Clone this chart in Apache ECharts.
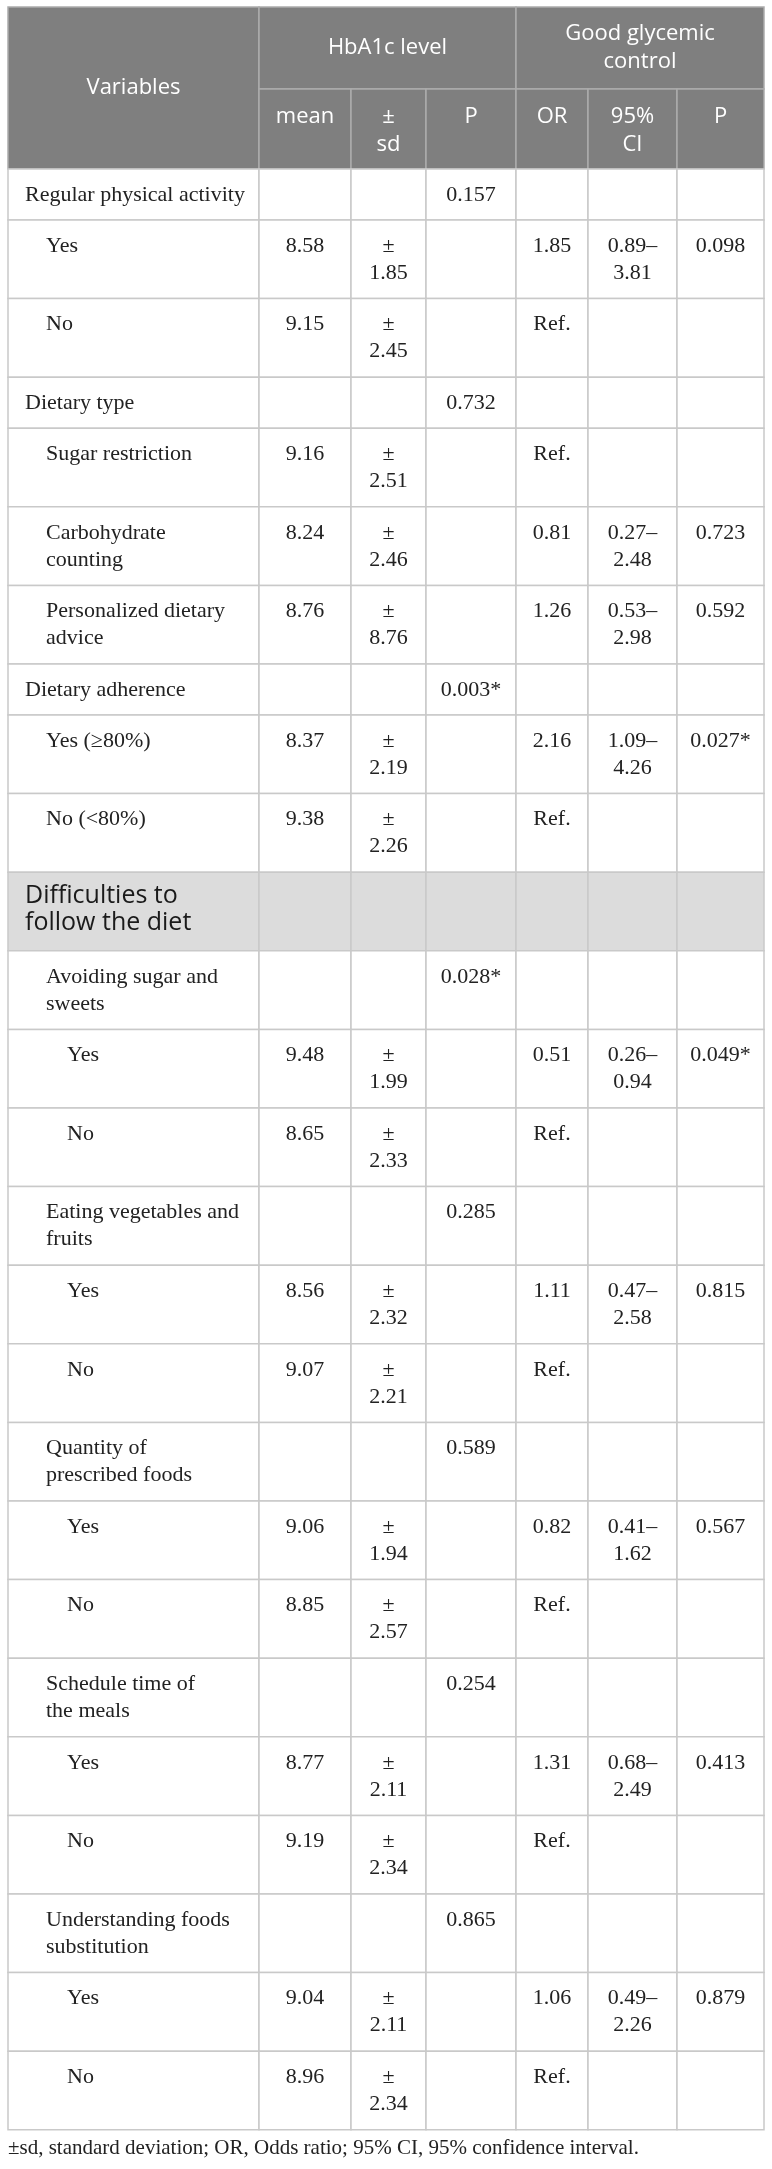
<!DOCTYPE html>
<html>
<head>
<meta charset="utf-8">
<script src="https://cdn.jsdelivr.net/npm/echarts@6/dist/echarts.min.js"></script>
<style>
  html, body { margin: 0; padding: 0; background: #ffffff; }
  #chart { width: 772px; height: 2169px; }
</style>
</head>
<body>
<div id="chart"></div>
<script>
// --- table content ---
var labels = [
  'Regular physical activity', 'Yes', 'No',
  'Dietary type', 'Sugar restriction', 'Carbohydrate\ncounting', 'Personalized dietary\nadvice',
  'Dietary adherence', 'Yes (\u226580%)', 'No (<80%)',
  'Difficulties to\nfollow the diet',
  'Avoiding sugar and\nsweets', 'Yes', 'No',
  'Eating vegetables and\nfruits', 'Yes', 'No',
  'Quantity of\nprescribed foods', 'Yes', 'No',
  'Schedule time of\nthe meals', 'Yes', 'No',
  'Understanding foods\nsubstitution', 'Yes', 'No'
];
var levels = [0, 1, 1, 0, 1, 1, 1, 0, 1, 1, -1, 1, 2, 2, 1, 2, 2, 1, 2, 2, 1, 2, 2, 1, 2, 2];
var meanVals = [null, 8.58, 9.15, null, 9.16, 8.24, 8.76, null, 8.37, 9.38, null,
  null, 9.48, 8.65, null, 8.56, 9.07, null, 9.06, 8.85, null, 8.77, 9.19, null, 9.04, 8.96];
var sdVals = [null, 1.85, 2.45, null, 2.51, 2.46, 8.76, null, 2.19, 2.26, null,
  null, 1.99, 2.33, null, 2.32, 2.21, null, 1.94, 2.57, null, 2.11, 2.34, null, 2.11, 2.34];
var pHbA1c = ['0.157', '', '', '0.732', '', '', '', '0.003*', '', '', '',
  '0.028*', '', '', '0.285', '', '', '0.589', '', '', '0.254', '', '', '0.865', '', ''];
var orVals = [null, 1.85, 'Ref.', null, 'Ref.', 0.81, 1.26, null, 2.16, 'Ref.', null,
  null, 0.51, 'Ref.', null, 1.11, 'Ref.', null, 0.82, 'Ref.', null, 1.31, 'Ref.', null, 1.06, 'Ref.'];
var ciLow = [null, 0.89, null, null, null, 0.27, 0.53, null, 1.09, null, null,
  null, 0.26, null, null, 0.47, null, null, 0.41, null, null, 0.68, null, null, 0.49, null];
var ciHigh = [null, 3.81, null, null, null, 2.48, 2.98, null, 4.26, null, null,
  null, 0.94, null, null, 2.58, null, null, 1.62, null, null, 2.49, null, null, 2.26, null];
var pControl = ['', '0.098', '', '', '', '0.723', '0.592', '', '0.027*', '', '',
  '', '0.049*', '', '', '0.815', '', '', '0.567', '', '', '0.413', '', '', '0.879', ''];

var groupHeaders = ['HbA1c level', 'Good glycemic\ncontrol'];
var subHeaders = ['mean', '\u00b1\nsd', 'P', 'OR', '95%\nCI', 'P'];
var footnote = '\u00b1sd, standard deviation; OR, Odds ratio; 95% CI, 95% confidence interval.';

// --- layout (table units = px inside the grid) ---
var colEdges = [0, 251, 343, 418, 508, 580, 669, 756];
var headerSplit = 82, headerH = 162;
var singleH = 51, doubleH = 78.6;
var indents = [17, 38, 59];

var serif = '"Liberation Serif", "DejaVu Serif", serif';
var sans = '"Open Sans", "Noto Sans", sans-serif';
var ink = '#222222';
var headBg = '#7f7f7f', headRule = '#acacac';
var bodyRule = '#c9c9c9', sectionBg = '#dcdcdc';

function fmt(v) {
  if (v === null || v === undefined || v === '') return '';
  return typeof v === 'number' ? v.toFixed(2) : v;
}

// build cells
var cells = [];
function addCell(x0, x1, y0, y1, o) {
  o.v = [x0, x1, y0, y1];
  cells.push(o);
}

// header
addCell(colEdges[0], colEdges[1], 0, headerH, { text: 'Variables', fill: headBg, stroke: headRule, color: '#fff', font: sans, size: 22, align: 'center', mid: true });
addCell(colEdges[1], colEdges[4], 0, headerSplit, { text: groupHeaders[0], fill: headBg, stroke: headRule, color: '#fff', font: sans, size: 22, align: 'center', mid: true, lh: 28 });
addCell(colEdges[4], colEdges[7], 0, headerSplit, { text: groupHeaders[1], fill: headBg, stroke: headRule, color: '#fff', font: sans, size: 22, align: 'center', mid: true, lh: 28 });
subHeaders.forEach(function(h, k) {
  addCell(colEdges[k + 1], colEdges[k + 2], headerSplit, headerH, { text: h, fill: headBg, stroke: headRule, color: '#fff', font: sans, size: 22, align: 'center', top: 14, lh: 28 });
});

// body
var y = headerH;
labels.forEach(function(lab, i) {
  var two = lab.indexOf('\n') >= 0 || sdVals[i] !== null || ciLow[i] !== null;
  var h = two ? doubleH : singleH;
  var section = levels[i] < 0;
  var fill = section ? sectionBg : '#ffffff';
  var texts = [
    lab,
    fmt(meanVals[i]),
    sdVals[i] === null ? '' : '\u00b1\n' + fmt(sdVals[i]),
    pHbA1c[i],
    fmt(orVals[i]),
    ciLow[i] === null ? '' : fmt(ciLow[i]) + '\u2013\n' + fmt(ciHigh[i]),
    pControl[i]
  ];
  texts.forEach(function(t, k) {
    var o = { text: t, fill: fill, stroke: bodyRule, color: ink, font: serif, size: 22, align: 'center', top: 12.5, lh: 27 };
    if (k === 0) {
      o.align = 'left';
      o.indent = indents[Math.max(levels[i], 0)];
      if (section) { o.font = sans; o.size = 25; o.top = 10.5; o.color = '#1a1a1a'; }
    }
    addCell(colEdges[k], colEdges[k + 1], y, y + h, o);
  });
  y += h;
});
var tableH = y;

var chart = echarts.init(document.getElementById('chart'), null, { renderer: 'canvas' });

chart.setOption({
  backgroundColor: '#ffffff',
  animation: false,
  title: {
    text: footnote,
    left: 8,
    top: 2138,
    padding: 0,
    textStyle: { fontFamily: serif, fontSize: 21, fontWeight: 'normal', color: ink }
  },
  grid: { left: 8, top: 7, width: 756, height: tableH },
  xAxis: { type: 'value', min: 0, max: colEdges[colEdges.length - 1], show: false },
  yAxis: { type: 'value', min: 0, max: tableH, inverse: true, show: false },
  series: [{
    type: 'custom',
    coordinateSystem: 'cartesian2d',
    encode: { x: [0, 1], y: [2, 3] },
    data: cells.map(function(c) { return c.v; }),
    renderItem: function(params, api) {
      var c = cells[params.dataIndex];
      var p0 = api.coord([api.value(0), api.value(2)]);
      var p1 = api.coord([api.value(1), api.value(3)]);
      var w = p1[0] - p0[0], h = p1[1] - p0[1];
      var tx = c.align === 'left' ? p0[0] + c.indent : p0[0] + w / 2;
      var ty = c.mid ? p0[1] + h / 2 : p0[1] + c.top;
      return {
        type: 'group',
        children: [{
          type: 'rect',
          shape: { x: p0[0], y: p0[1], width: w, height: h },
          style: { fill: c.fill, stroke: c.stroke, lineWidth: 1.5 }
        }, {
          type: 'text',
          x: tx,
          y: ty,
          style: {
            text: c.text,
            fill: c.color,
            fontFamily: c.font,
            fontSize: c.size,
            align: c.align,
            verticalAlign: c.mid ? 'middle' : 'top',
            lineHeight: c.lh || 27
          }
        }]
      };
    }
  }]
});

window.addEventListener('resize', function() { chart.resize(); });
</script>
</body>
</html>
